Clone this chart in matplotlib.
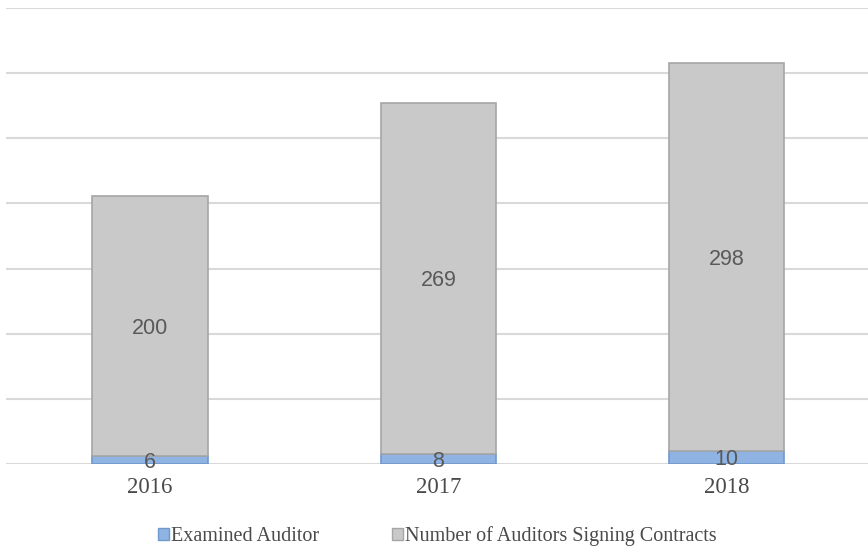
import matplotlib
matplotlib.use("Agg")
import matplotlib.pyplot as plt
from matplotlib.patches import Patch
import numpy as np

years = ["2016", "2017", "2018"]
examined = [6, 8, 10]
signing = [200, 269, 298]

fig = plt.figure(figsize=(8.68, 5.50), dpi=100)
ax = fig.add_axes([6 / 868, 86 / 550, 862 / 868, 456 / 550])

x = np.arange(len(years))
w = 0.40
blue_face, blue_edge = "#8fb4e3", "#6f98cc"
gray_face, gray_edge = "#c9c9c9", "#a6a6a6"

ax.bar(x, examined, width=w, color=blue_face, edgecolor=blue_edge, linewidth=1.2, zorder=3)
ax.bar(x, signing, width=w, bottom=examined, color=gray_face, edgecolor=gray_edge,
       linewidth=1.2, zorder=3)

label_kw = dict(ha="center", va="center_baseline", color="#595959", fontsize=15.5,
                family="Liberation Sans", zorder=4)
for xi, e, s in zip(x, examined, signing):
    ax.text(xi, e / 2, str(e), **label_kw)
    ax.text(xi, e + s / 2, str(s), **label_kw)

ax.set_ylim(0, 350)
ax.set_xlim(-0.5, 2.49)
ax.set_yticks(np.arange(0, 351, 50))
ax.yaxis.grid(True, color="#d9d9d9", linewidth=1.5, zorder=0)
ax.tick_params(axis="y", left=False, labelleft=False)
ax.tick_params(axis="x", bottom=False, pad=6)
ax.set_xticks(x)
ax.set_xticklabels(years, family="Liberation Serif", fontsize=16.5, color="#4a4a4a")
for sp in ax.spines.values():
    sp.set_visible(False)

handles = [Patch(facecolor=blue_face, edgecolor=blue_edge),
           Patch(facecolor=gray_face, edgecolor=gray_edge)]
fig.legend(handles, ["Examined Auditor", "Number of Auditors Signing Contracts"],
           loc="center", bbox_to_anchor=(437 / 868, 1 - 536 / 550), ncol=2, frameon=False,
           prop={"family": "Liberation Serif", "size": 14.5}, handlelength=0.55, handleheight=0.55,
           handletextpad=0.1, columnspacing=3.6, labelcolor="#4a4a4a")

fig.savefig("out.png", dpi=100, facecolor="white")
